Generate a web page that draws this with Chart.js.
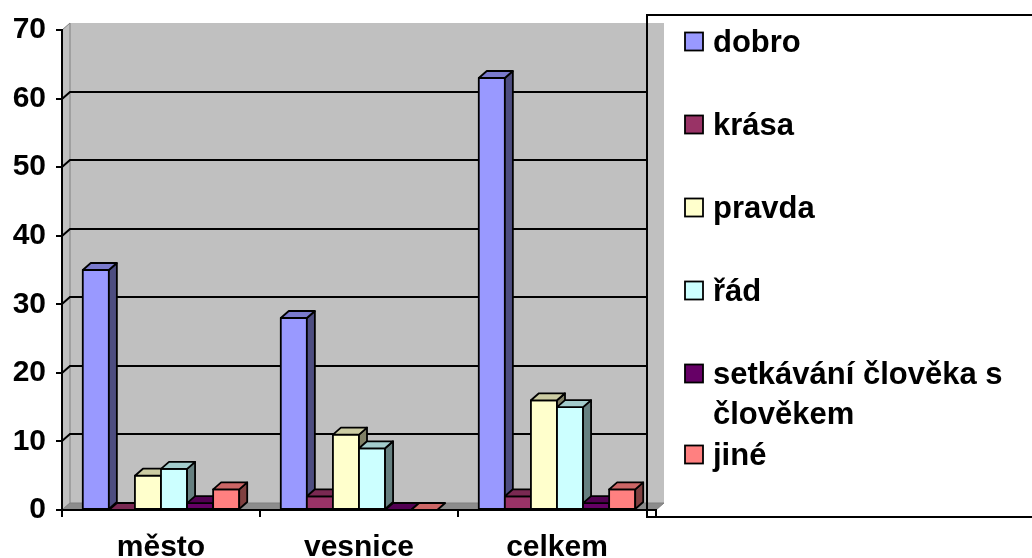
<!DOCTYPE html>
<html lang="cs">
<head>
	<meta charset="UTF-8">
	<title>dobro, krása, pravda</title>
	<script src="https://cdn.jsdelivr.net/npm/chart.js@4.4.0/dist/chart.umd.min.js"></script>
	<style>
		body { margin: 0; background: #fff; }
		#wrap { width: 1032px; height: 558px; }
	</style>
</head>
<body>
<div id="wrap"><canvas id="barChart" width="1032" height="558"></canvas></div>

<script>

// data
const categories = ['město', 'vesnice', 'celkem'];
const seriesNames = ['dobro', 'krása', 'pravda', 'řád', 'setkávání člověka s člověkem', 'jiné'];
const dobro = [35, 28, 63];
const krasa = [0, 2, 2];
const pravda = [5, 11, 16];
const rad = [6, 9, 15];
const setkavani = [1, 0, 1];
const jine = [3, 0, 3];
const seriesColors = ['#9999FF', '#993366', '#FFFFCC', '#CCFFFF', '#660066', '#FF8080'];
const yMin = 0, yMax = 70, yStep = 10;

const FONT = '"Liberation Sans", Arial, sans-serif';
var depthX = 8;
var depthY = 7;
var legendLeft = 647;

function shade(hex, f) {
	var n = parseInt(hex.slice(1), 16);
	var r = Math.round(((n >> 16) & 255) * f);
	var g = Math.round(((n >> 8) & 255) * f);
	var b = Math.round((n & 255) * f);
	return 'rgb(' + r + ',' + g + ',' + b + ')';
}

function poly(ctx, pts, fill) {
	ctx.beginPath();
	ctx.moveTo(pts[0][0], pts[0][1]);
	for (let i = 1; i < pts.length; i++) ctx.lineTo(pts[i][0], pts[i][1]);
	ctx.closePath();
	ctx.fillStyle = fill;
	ctx.fill();
	ctx.stroke();
}

// back wall, side wall and floor of the 3d plot
const wallPlugin = {
	id: 'wall',
	beforeDraw(chart) {
		const ctx = chart.ctx;
		const a = chart.chartArea;
		const y = chart.scales.y;
		ctx.save();

		// legend frame
		ctx.fillStyle = '#fff';
		ctx.fillRect(legendLeft, 15, 1032 - legendLeft + 5, 502);

		ctx.lineWidth = 1;
		ctx.strokeStyle = '#808080';
		// back wall
		ctx.fillStyle = '#C0C0C0';
		ctx.fillRect(a.left + depthX, a.top - depthY, a.right - a.left, a.bottom - a.top);
		// left side wall
		poly(ctx, [[a.left, a.top], [a.left + depthX, a.top - depthY], [a.left + depthX, a.bottom - depthY], [a.left, a.bottom]], '#C0C0C0');
		// floor
		poly(ctx, [[a.left, a.bottom], [a.left + depthX, a.bottom - depthY], [a.right + depthX, a.bottom - depthY], [a.right, a.bottom]], '#8C8C8C');

		// gridlines on the wall
		ctx.strokeStyle = '#000';
		ctx.lineWidth = 2;
		for (let v = yMin + yStep; v < yMax; v += yStep) {
			var py = Math.round(y.getPixelForValue(v));
			ctx.beginPath();
			ctx.moveTo(a.left, py);
			ctx.lineTo(a.left + depthX, py - depthY);
			ctx.lineTo(legendLeft, py - depthY);
			ctx.stroke();
		}
		ctx.restore();
	},
	// draw the bars as 3d blocks, left to right so each front face covers the previous side
	beforeDatasetsDraw(chart) {
		const ctx = chart.ctx;
		ctx.save();
		ctx.strokeStyle = '#000';
		ctx.lineWidth = 1.8;
		ctx.lineJoin = 'round';
		for (let j = 0; j < categories.length; j++) {
			for (let i = 0; i < chart.data.datasets.length; i++) {
				var el = chart.getDatasetMeta(i).data[j];
				var col = chart.data.datasets[i].backgroundColor;
				var l = el.x - el.width / 2, r = el.x + el.width / 2;
				var t = el.y, b = el.base;
				if (b - t > 0.5) {
					ctx.fillStyle = col;
					ctx.fillRect(l, t, r - l, b - t);
					ctx.strokeRect(l, t, r - l, b - t);
					poly(ctx, [[r, t], [r + depthX, t - depthY], [r + depthX, b - depthY], [r, b]], shade(col, 0.5));
				}
				poly(ctx, [[l, t], [r, t], [r + depthX, t - depthY], [l + depthX, t - depthY]], shade(col, 0.8));
			}
		}
		ctx.restore();
		return false;
	},
	afterDraw(chart) {
		const ctx = chart.ctx;
		ctx.save();
		ctx.strokeStyle = '#000';
		ctx.lineWidth = 2;
		ctx.strokeRect(legendLeft, 15, 1032 - legendLeft + 5, 502);

		// legend entries
		ctx.font = 'bold 31px ' + FONT;
		ctx.textBaseline = 'alphabetic';
		ctx.lineWidth = 1.8;
		var cy = 41.5;
		var maxW = 1032 - 713 - 8;
		chart.data.datasets.forEach(function(ds) {
			ctx.fillStyle = ds.backgroundColor;
			ctx.fillRect(685, cy - 9, 18, 18);
			ctx.strokeRect(685, cy - 9, 18, 18);

			// wrap long labels
			var words = ds.label.split(' ');
			var lines = [];
			var line = '';
			words.forEach(function(w) {
				var test = line ? line + ' ' + w : w;
				if (ctx.measureText(test).width > maxW && line) {
					lines.push(line);
					line = w;
				} else {
					line = test;
				}
			});
			lines.push(line);

			ctx.fillStyle = '#000';
			lines.forEach(function(txt, k) {
				ctx.fillText(txt, 713, cy + 10.5 + k * 40);
			});
			cy += 83 + (lines.length - 1) * 40 - (lines.length > 1 ? 42 : 0);
		});
		ctx.restore();
	}
};

const ctx = document.getElementById('barChart').getContext('2d');
const seriesData = [dobro, krasa, pravda, rad, setkavani, jine];

const barChart = new Chart(ctx, {
	type: 'bar',
	data: {
		labels: categories,
		datasets: seriesNames.map(function(name, i) {
			return {
				label: name,
				data: seriesData[i],
				backgroundColor: seriesColors[i],
				borderColor: '#000',
				borderWidth: 1.8
			};
		})
	},
	options: {
		responsive: false,
		animation: false,
		events: [],
		devicePixelRatio: 1,
		layout: {
			padding: { top: 30, right: 376, bottom: 0, left: 0 }
		},
		datasets: {
			bar: { categoryPercentage: 0.79, barPercentage: 1 }
		},
		plugins: {
			legend: { display: false },
			tooltip: { enabled: false }
		},
		scales: {
			x: {
				grid: { display: true, drawOnChartArea: false, drawTicks: true, tickLength: 7, offset: true, color: '#000', lineWidth: 2 },
				border: { display: true, color: '#000', width: 2 },
				ticks: { color: '#000', padding: 13, maxRotation: 0, font: { family: FONT, size: 30, weight: 'bold' } },
				afterFit: function(s) { s.height = 48; }
			},
			y: {
				min: yMin,
				max: yMax,
				grid: { display: true, drawOnChartArea: false, drawTicks: true, tickLength: 6, color: '#000', lineWidth: 2 },
				border: { display: true, color: '#000', width: 2 },
				ticks: { stepSize: yStep, color: '#000', padding: 10, font: { family: FONT, size: 30, weight: 'bold' } },
				afterFit: function(s) { s.width = 62; }
			}
		}
	},
	plugins: [wallPlugin]
});
</script>
</body>
</html>
